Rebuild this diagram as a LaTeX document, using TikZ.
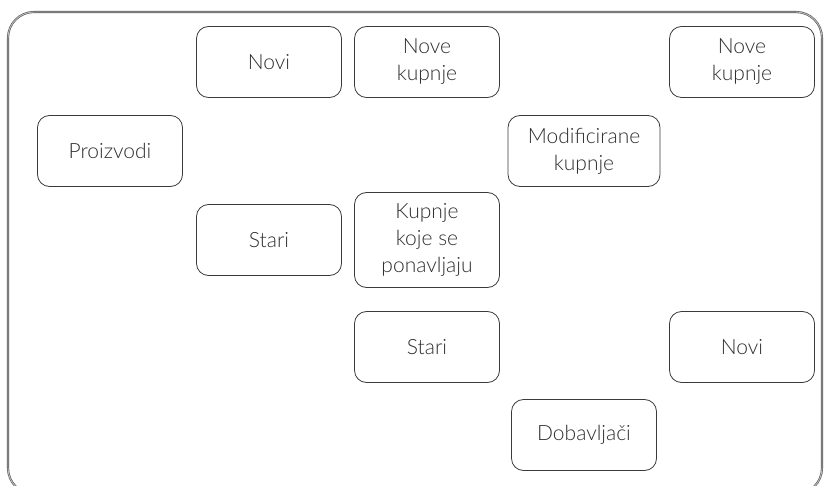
\documentclass[tikz,border=0pt]{standalone}
\usepackage{fontspec}
\setmainfont{Lato Light}
\usepackage{xcolor}
\definecolor{linegray}{HTML}{3A3A3A}
\definecolor{textgray}{HTML}{2E2E2E}

\tikzset{
  box/.style={draw=linegray, line width=.8pt, rounded corners=12pt,
    minimum width=145pt, minimum height=71pt, align=center,
    text=textgray, font=\fontsize{21}{27}\selectfont, inner sep=2pt},
  frame/.style={draw=gray!70!black, double=gray!55, double distance=.9pt,
    line width=.6pt, rounded corners=26pt}
}

\begin{document}
\begin{tikzpicture}[x=1pt,y=1pt]
    \useasboundingbox (0,0) rectangle (829,-486);
    \draw[frame] (8,-12) rectangle (822,-494);

    \node[box] (proizvodi) at (110,-151) {Proizvodi};
    \node[box] (novi-p) at (269,-62) {Novi};
    \node[box] (stari-p) at (269,-240) {Stari};

    \node[box] (nove-k) at (427,-62) {Nove\\kupnje};
    \node[box, minimum height=95pt] (ponavljaju) at (427,-240) {Kupnje\\koje se\\ponavljaju};
    \node[box] (stari-d) at (427,-347) {Stari};

    \node[box, minimum width=152pt] (modificirane) at (584,-151) {Modificirane\\kupnje};
    \node[box] (dobavljaci) at (584,-435) {Dobavljači};

    \node[box] (nove-k2) at (742,-62) {Nove\\kupnje};
    \node[box] (novi-d) at (742,-347) {Novi};
\end{tikzpicture}
\end{document}
